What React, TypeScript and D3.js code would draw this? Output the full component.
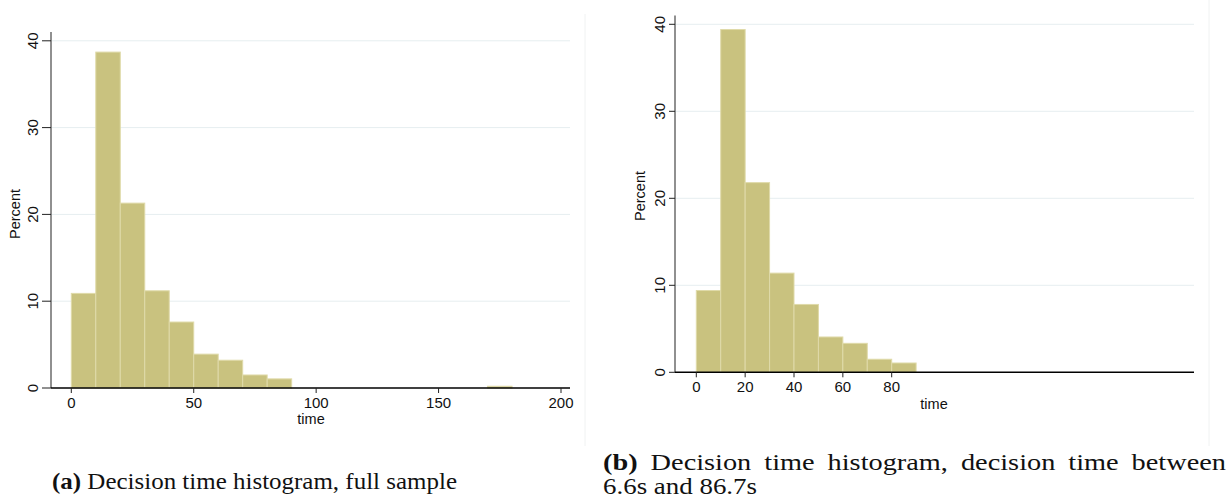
import React, { useEffect, useRef } from 'react';
import * as d3 from 'd3';

const width = 1228;
const height = 500;

// panel (a): full sample, 10s bins
const binStartsA = [0, 10, 20, 30, 40, 50, 60, 70, 80, 170];
const percentA = [10.9, 38.7, 21.3, 11.2, 7.6, 3.9, 3.2, 1.5, 1.05, 0.2];
const xTicksA = [0, 50, 100, 150, 200];

// panel (b): decision time between 6.6s and 86.7s
const binStartsB = [0, 10, 20, 30, 40, 50, 60, 70, 80];
const percentB = [9.4, 39.4, 21.8, 11.4, 7.8, 4.06, 3.33, 1.5, 1.07];
const xTicksB = [0, 20, 40, 60, 80];

const yTicks = [0, 10, 20, 30, 40];
const binWidth = 10;

const barFill = '#c9c27f';
const barStroke = '#dfdaa9';
const gridColor = '#e6eef0';
const font = '"Liberation Sans", Arial, sans-serif';

interface Panel {
  starts: number[];
  values: number[];
  xTicks: number[];
  xRange: [number, number]; // pixel position of 0 and 200
  yRange: [number, number]; // pixel position of 0 and 40
  axisLeft: number;
  axisRight: number;
  axisTop: number;
  yTickLen: number;
  tickLabelY: number;
  timeX: number;
  timeY: number;
  percentX: number;
  percentY: number;
  borderX: number;
  borderTop: number;
  borderBottom: number;
}

const panels: Panel[] = [
  {
    starts: binStartsA,
    values: percentA,
    xTicks: xTicksA,
    xRange: [71.3, 561],
    yRange: [388, 40.8],
    axisLeft: 51,
    axisRight: 570,
    axisTop: 32,
    yTickLen: 9,
    tickLabelY: 403,
    timeX: 311,
    timeY: 419,
    percentX: 15,
    percentY: 214,
    borderX: 585,
    borderTop: 14,
    borderBottom: 446,
  },
  {
    starts: binStartsB,
    values: percentB,
    xTicks: xTicksB,
    xRange: [696.3, 1184.8],
    yRange: [372.3, 24.3],
    axisLeft: 675,
    axisRight: 1194,
    axisTop: 15.5,
    yTickLen: 6,
    tickLabelY: 387,
    timeX: 934,
    timeY: 404,
    percentX: 640,
    percentY: 196,
    borderX: 1209,
    borderTop: 0,
    borderBottom: 446,
  },
];

const App: React.FC = () => {
  const ref = useRef<SVGSVGElement>(null);

  useEffect(() => {
    if (!ref.current) return;
    const svg = d3.select(ref.current);
    svg.selectAll('*').remove();

    panels.forEach(p => {
      const x = d3.scaleLinear().domain([0, 200]).range(p.xRange);
      const y = d3.scaleLinear().domain([0, 40]).range(p.yRange);
      const g = svg.append('g');

      // faint graph region border
      g.append('line')
        .attr('x1', p.borderX)
        .attr('x2', p.borderX)
        .attr('y1', p.borderTop)
        .attr('y2', p.borderBottom)
        .attr('stroke', '#f0f2f2')
        .attr('stroke-width', 1);

      // gridlines
      g.selectAll('line.grid')
        .data(yTicks.filter(t => t > 0))
        .enter()
        .append('line')
        .attr('class', 'grid')
        .attr('x1', p.axisLeft)
        .attr('x2', p.axisRight)
        .attr('y1', d => y(d))
        .attr('y2', d => y(d))
        .attr('stroke', gridColor)
        .attr('stroke-width', 1);

      // bars
      g.selectAll('rect.bar')
        .data(p.starts.map((s, i) => ({ s, v: p.values[i] })))
        .enter()
        .append('rect')
        .attr('class', 'bar')
        .attr('x', d => x(d.s))
        .attr('y', d => y(d.v))
        .attr('width', d => x(d.s + binWidth) - x(d.s))
        .attr('height', d => y(0) - y(d.v))
        .attr('fill', barFill)
        .attr('stroke', barStroke)
        .attr('stroke-width', 1);

      // y axis
      g.append('line')
        .attr('x1', p.axisLeft)
        .attr('x2', p.axisLeft)
        .attr('y1', p.axisTop)
        .attr('y2', y(0))
        .attr('stroke', '#6b6b6b')
        .attr('stroke-width', 1.5);

      yTicks.forEach(t => {
        g.append('line')
          .attr('x1', p.axisLeft - p.yTickLen)
          .attr('x2', p.axisLeft)
          .attr('y1', y(t))
          .attr('y2', y(t))
          .attr('stroke', '#222')
          .attr('stroke-width', 1);
        const lx = p.axisLeft - p.yTickLen - 9;
        g.append('text')
          .attr('transform', `translate(${lx},${y(t)}) rotate(-90)`)
          .attr('text-anchor', 'middle')
          .attr('dy', '0.35em')
          .attr('font-family', font)
          .attr('font-size', 15)
          .attr('fill', '#111')
          .text(t);
      });

      g.append('text')
        .attr('transform', `translate(${p.percentX},${p.percentY}) rotate(-90)`)
        .attr('text-anchor', 'middle')
        .attr('dy', '0.35em')
        .attr('font-family', font)
        .attr('font-size', 14.5)
        .attr('fill', '#111')
        .text('Percent');

      // x axis
      g.append('line')
        .attr('x1', p.axisLeft)
        .attr('x2', p.axisRight)
        .attr('y1', y(0))
        .attr('y2', y(0))
        .attr('stroke', '#000')
        .attr('stroke-width', 1.5);

      p.xTicks.forEach(t => {
        g.append('line')
          .attr('x1', x(t))
          .attr('x2', x(t))
          .attr('y1', y(0))
          .attr('y2', y(0) + 5)
          .attr('stroke', '#222')
          .attr('stroke-width', 1);
        g.append('text')
          .attr('x', x(t))
          .attr('y', p.tickLabelY)
          .attr('text-anchor', 'middle')
          .attr('dy', '0.35em')
          .attr('font-family', font)
          .attr('font-size', 15)
          .attr('fill', '#111')
          .text(t);
      });

      g.append('text')
        .attr('x', p.timeX)
        .attr('y', p.timeY)
        .attr('text-anchor', 'middle')
        .attr('dy', '0.35em')
        .attr('font-family', font)
        .attr('font-size', 14.5)
        .attr('fill', '#111')
        .text('time');
    });

    // captions
    const serif = '"Liberation Serif", "Times New Roman", serif';
    const capA = svg
      .append('text')
      .attr('x', 52)
      .attr('y', 489)
      .attr('font-family', serif)
      .attr('font-size', 24)
      .attr('fill', '#111')
      .attr('textLength', 405)
      .attr('lengthAdjust', 'spacingAndGlyphs');
    capA.append('tspan').attr('font-weight', 'bold').text('(a)');
    capA.append('tspan').text(' Decision time histogram, full sample');

    const capB = svg
      .append('text')
      .attr('x', 603)
      .attr('y', 470)
      .attr('font-family', serif)
      .attr('font-size', 24)
      .attr('fill', '#111')
      .attr('word-spacing', 5)
      .attr('textLength', 623)
      .attr('lengthAdjust', 'spacingAndGlyphs');
    capB.append('tspan').attr('font-weight', 'bold').text('(b)');
    capB.append('tspan').text(' Decision time histogram, decision time between');

    svg
      .append('text')
      .attr('x', 603)
      .attr('y', 494)
      .attr('font-family', serif)
      .attr('font-size', 24)
      .attr('fill', '#111')
      .attr('textLength', 154)
      .attr('lengthAdjust', 'spacingAndGlyphs')
      .text('6.6s and 86.7s');
  }, []);

  return (
    <svg
      ref={ref}
      width={width}
      height={height}
      style={{ position: 'absolute', top: 0, left: 0, background: '#fff' }}
    />
  );
};

export default App;
